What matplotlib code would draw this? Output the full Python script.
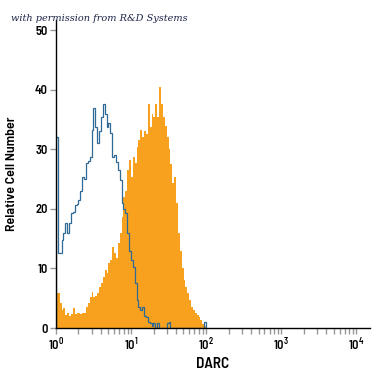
import matplotlib
matplotlib.use('Agg')
import matplotlib.pyplot as plt
import numpy as np

# 40 channels per decade, from 10^0 to 10^2
bin_edges = np.logspace(0, 2, 81)

isotype_counts = [
    32, 12.6, 12.6, 14.8, 16, 17.6, 16, 17.6, 19.3, 19.5,
    20.6, 20.8, 21.5, 23, 25.3, 25, 27.7, 28, 28.7, 33.2,
    36.9, 33.7, 31, 33, 35.4, 37.7, 36, 33.7, 34.5, 32.7,
    28.7, 29, 27.9, 26.5, 24.8, 21, 20, 19.3, 16, 13,
    11.5, 10.2, 7.5, 4.7, 3.5, 3, 3.5, 2, 1.8, 1,
    0.8, 0.3, 0.8, 0, 0.9, 0, 0, 0, 0, 0.9,
    1, 0, 0, 0, 0, 0, 0, 0, 0, 0,
    0, 0, 0, 0, 0, 0, 0, 0, 0, 1,
]

darc_counts = [
    5.9, 5.9, 4.2, 3, 3.4, 2.2, 2.5, 2, 2.4, 3.3,
    2.4, 2.5, 2.5, 2.4, 2.5, 2.5, 3.5, 4.2, 5.2, 6,
    5.2, 5.4, 5.8, 6.9, 7.5, 8.6, 9.7, 9.2, 10.9, 11.4,
    13.6, 12.6, 11.7, 14.3, 16, 18.6, 22, 23, 26.5, 28.2,
    25.3, 28.7, 27.7, 30.4, 31.5, 33.2, 32, 33, 32.5, 37.7,
    33.7, 36, 35.4, 37.7, 35.4, 40.5, 37.7, 35.4, 34, 32,
    30, 27.5, 24.3, 25.3, 21, 16, 13, 10, 8, 6.9,
    5.9, 4.7, 3.5, 3, 2.5, 2.2, 1.8, 1.3, 0.7, 0.3,
]

y_ticks = [0, 10, 20, 30, 40, 50]
x_ticks = [1, 10, 100, 1000, 10000]
x_labels = [r'$\mathregular{10^0}$', r'$\mathregular{10^1}$', r'$\mathregular{10^2}$',
            r'$\mathregular{10^3}$', r'$\mathregular{10^4}$']

label_font = ['Barlow Semi Condensed', 'DejaVu Sans']

fig = plt.figure(figsize=(3.75, 3.75), dpi=100)
ax = fig.add_axes([0.149, 0.1253, 0.837, 0.821])

ax.stairs(darc_counts, bin_edges, fill=True, color='#f7a11f', linewidth=0)
ax.stairs(isotype_counts, bin_edges, baseline=0, color='#2f6a96', linewidth=0.9)

ax.set_xscale('log')
ax.set_xlim(1, 10 ** 4.18)
ax.set_ylim(0, 51.7)

for s in ['top', 'right']:
    ax.spines[s].set_visible(False)
for s in ['left', 'bottom']:
    ax.spines[s].set_color('black')
    ax.spines[s].set_linewidth(1.0)

ax.set_yticks(y_ticks)
ax.set_yticklabels([str(t) for t in y_ticks], family=label_font,
                   fontweight='semibold', fontsize=9)
ax.set_xticks(x_ticks)
ax.set_xticklabels(x_labels, family=label_font, fontweight='semibold', fontsize=9)
ax.xaxis.set_minor_locator(matplotlib.ticker.LogLocator(base=10, subs=np.arange(2, 10)))
ax.xaxis.set_minor_formatter(matplotlib.ticker.NullFormatter())

ax.tick_params(axis='both', which='major', color='#999999', length=4, width=1, pad=2)
ax.tick_params(axis='x', which='minor', color='#999999', length=4, width=1)

ax.set_xlabel('DARC', family=label_font, fontweight='semibold', fontsize=11, labelpad=3)
ax.set_ylabel('Relative Cell Number', family=label_font, fontweight='semibold',
              fontsize=10, labelpad=12)

fig.text(0.03, 0.945, 'with permission from R&D Systems', family=['DejaVu Serif'],
         fontstyle='italic', fontsize=7, color='#1c2448')

plt.savefig('out.png', dpi=100)
